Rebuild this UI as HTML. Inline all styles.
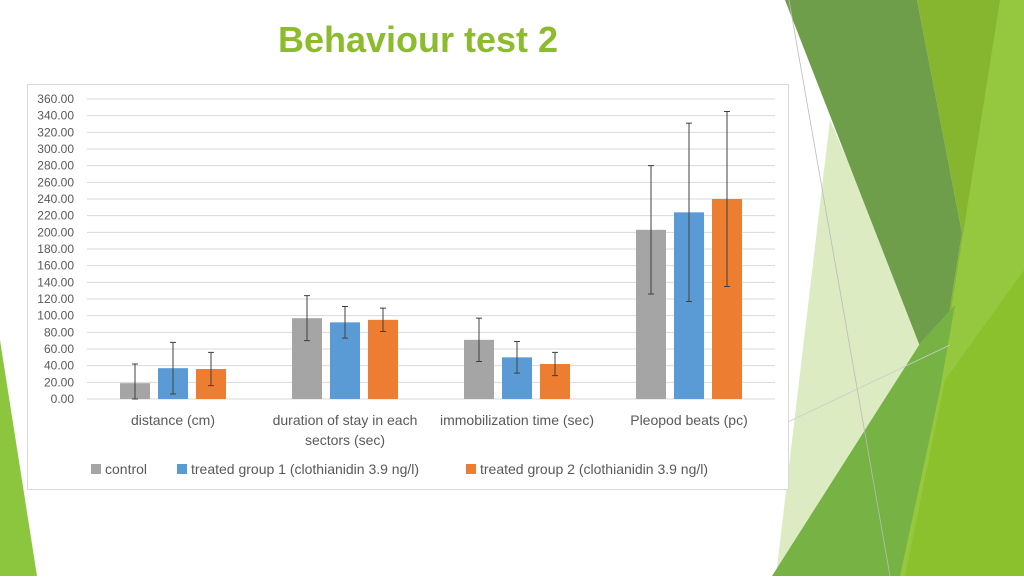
<!DOCTYPE html>
<html><head><meta charset="utf-8"><style>
body{margin:0;width:1024px;height:576px;overflow:hidden;background:#fff;font-family:"Liberation Sans",sans-serif}
</style></head><body>
<svg width="1024" height="576" viewBox="0 0 1024 576" xmlns="http://www.w3.org/2000/svg">
<g>
<polygon points="0,340 37,576 0,576" fill="#8cc63f"/>
<polygon points="830,120 875,225 921,342 795,576 776,576" fill="#dcebc2"/>
<polygon points="917,0 1024,0 1024,576 880,576 937,390 962,233" fill="#86b52f"/>
<polygon points="1000,0 1024,0 1024,576 900,576 940,380" fill="#95c83e"/>
<polygon points="785,0 917,0 962,233 937,390" fill="#6f9e4a"/>
<polygon points="772,576 921,342 955,305 940,390 900,576" fill="#77b244"/>
<polygon points="905,576 945,380 1024,270 1024,576" fill="#8cc12e"/>
<line x1="789" y1="0" x2="890" y2="576" stroke="#bbb" stroke-width="0.8"/>
<line x1="788" y1="422" x2="950" y2="345" stroke="#ccc" stroke-width="0.8"/>
</g>
<text x="418" y="52" text-anchor="middle" font-size="36" font-weight="bold" fill="#8dbb2e">Behaviour test 2</text>
<rect x="27.5" y="84.5" width="761" height="405" fill="#fff" stroke="#d9d9d9"/>
<g id="grid"></g>
<g id="ylab"></g>
<g id="bars"></g>
<g id="xlab"></g>
<g font-size="14" fill="#595959">
<g><rect x="91" y="464" width="10" height="10" fill="#a5a5a5"/><text x="105" y="474">control</text></g>
<g><rect x="177" y="464" width="10" height="10" fill="#5b9bd5"/><text x="191" y="474">treated group 1 (clothianidin 3.9 ng/l)</text></g>
<g><rect x="466" y="464" width="10" height="10" fill="#ed7d31"/><text x="480" y="474">treated group 2 (clothianidin 3.9 ng/l)</text></g>
</g>
</svg>
<script>
const categories=[["distance (cm)"],["duration of stay in each","sectors (sec)"],["immobilization time (sec)"],["Pleopod beats (pc)"]];
const control=[19,97,71,203];
const controlErr=[23,27,26,77];
const treated1=[37,92,50,224];
const treated1Err=[31,19,19,107];
const treated2=[36,95,42,240];
const treated2Err=[20,14,14,105];
const yTicks=[0,20,40,60,80,100,120,140,160,180,200,220,240,260,280,300,320,340,360];
const NS="http://www.w3.org/2000/svg";
const x0=87,x1=775,yBase=399,yTop=99,yMax=360;
const y=v=>yBase-(v/yMax)*(yBase-yTop);
const gw=(x1-x0)/categories.length;
function mk(t,a,p){const e=document.createElementNS(NS,t);for(const k in a)e.setAttribute(k,a[k]);p.appendChild(e);return e;}
const grid=document.getElementById('grid'),ylab=document.getElementById('ylab'),bars=document.getElementById('bars'),xlab=document.getElementById('xlab');
yTicks.forEach(t=>{
const l=mk('line',{x1:x0,x2:x1,y1:y(t),y2:y(t),stroke:'#d9d9d9','stroke-width':1},grid);


const tx=mk('text',{x:74,y:y(t)+4,'text-anchor':'end','font-size':12,fill:'#595959'},ylab);
tx.textContent=t.toFixed(2);


});
const series=[[control,controlErr,'#a5a5a5','control'],[treated1,treated1Err,'#5b9bd5','treated1'],[treated2,treated2Err,'#ed7d31','treated2']];
const bw=30,gap=8;
categories.forEach((c,i)=>{
const cx=x0+gw*(i+0.5);
series.forEach((s,j)=>{
const bx=cx+(j-1)*(bw+gap)-bw/2;
const v=s[0][i],e=s[1][i];
const r=mk('rect',{x:bx,y:y(v),width:bw,height:yBase-y(v),fill:s[2]},bars);


const mx=bx+bw/2,lo=y(Math.max(0,v-e)),hi=y(v+e);
const eb=mk('path',{d:`M${mx},${hi}V${lo}M${mx-3},${hi}H${mx+3}M${mx-3},${lo}H${mx+3}`,stroke:'#404040','stroke-width':1,fill:'none'},bars);


});
c.forEach((line,k)=>{
const t=mk('text',{x:cx,y:425+k*20,'text-anchor':'middle','font-size':14,fill:'#595959'},xlab);
t.textContent=line;


});
});
</script>
</body></html>
